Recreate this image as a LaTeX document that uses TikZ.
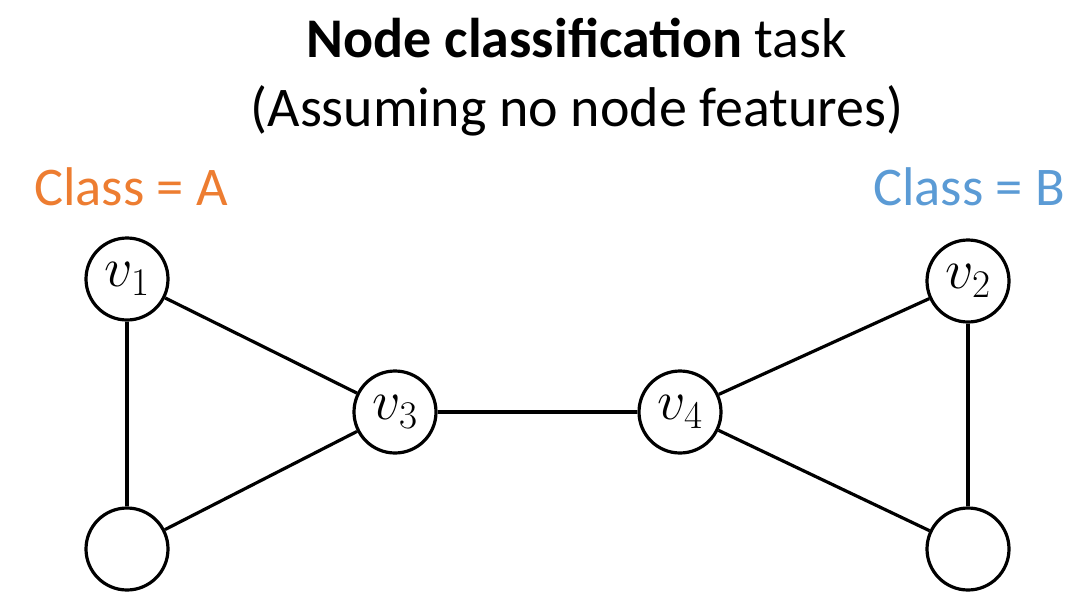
\RequirePackage{fix-cm}
\documentclass[tikz,border=0pt]{standalone}
\usepackage{fontspec}
\setmainfont{Carlito}
\usetikzlibrary{positioning}
\definecolor{classA}{RGB}{237,125,49}
\definecolor{classB}{RGB}{91,155,213}

\begin{document}
\begin{tikzpicture}[
    x=1pt, y=-1pt,
    vertex/.style={circle, draw=black, line width=3.2pt, minimum size=82pt, inner sep=0pt, font=\fontsize{56}{60}\selectfont},
    edge/.style={line width=3.2pt, black},
    classlabel/.style={font=\fontsize{54.5}{60}\selectfont, inner sep=0pt, anchor=base},
    heading/.style={font=\fontsize{56}{64}\selectfont, inner sep=0pt, anchor=base}
]
\useasboundingbox (0,0) rectangle (1065,597);

% title
\node[heading] (title) at (577,57) {\textbf{Node classification} task};
\node[heading] (subtitle) at (577,126) {(Assuming no node features)};

% graph
\node[vertex] (v1) at (127,279) {$v_1$};
\node[vertex] (a2) at (127,549) {};
\node[vertex] (v3) at (395,412) {$v_3$};
\node[vertex] (v4) at (680,412) {$v_4$};
\node[vertex] (v2) at (968,281) {$v_2$};
\node[vertex] (b2) at (968,549) {};

% class labels
\node[classlabel, text=classA] (classA) at (131,205) {Class = A};
\node[classlabel, text=classB] (classB) at (969,205) {Class = B};

\draw[edge] (v1) -- (a2);
\draw[edge] (v1) -- (v3);
\draw[edge] (a2) -- (v3);
\draw[edge] (v3) -- (v4);
\draw[edge] (v4) -- (v2);
\draw[edge] (v4) -- (b2);
\draw[edge] (v2) -- (b2);
\end{tikzpicture}
\end{document}
